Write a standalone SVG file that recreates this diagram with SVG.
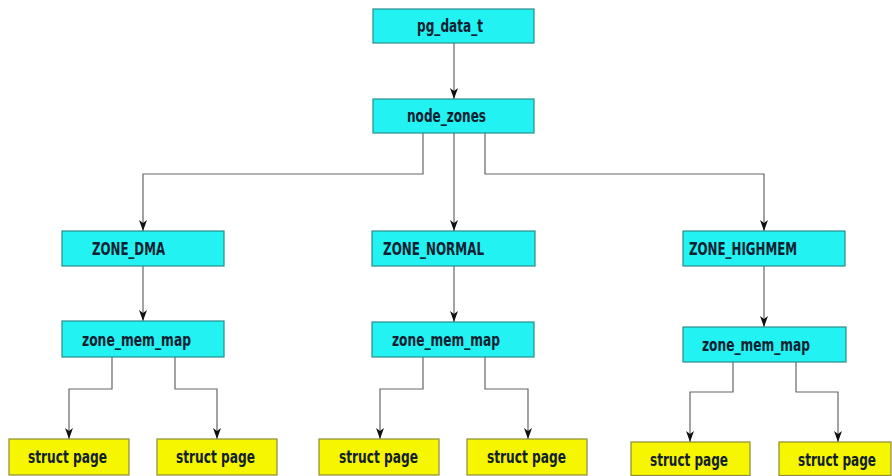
<svg xmlns="http://www.w3.org/2000/svg" width="892" height="476" viewBox="0 0 892 476">
<style>
.c{fill:#22f2f2;stroke:#2b8c8c;stroke-width:1.2}
.y{fill:#f6f600;stroke:#8c8c3a;stroke-width:1.2}
text{font-family:"DejaVu Sans Condensed","DejaVu Sans",sans-serif;font-stretch:condensed;font-weight:bold;font-size:17px;fill:#102030}
.e{fill:none;stroke:#666;stroke-width:1.2;marker-end:url(#ah)}
</style>
<defs>
<marker id="ah" markerUnits="userSpaceOnUse" markerWidth="12" markerHeight="8" refX="11" refY="4" orient="auto">
<path d="M0,0 L11,4 L0,8 L3,4 z" fill="#111"/>
</marker>
</defs>
<rect width="892" height="476" fill="#fff"/>
<g id="edges">
<path class="e" d="M454 43 V99"/>
<path class="e" d="M423 133 V174 H143 V231"/>
<path class="e" d="M454 133 V231"/>
<path class="e" d="M485 133 V174 H764 V231"/>
<path class="e" d="M143 266 V321"/>
<path class="e" d="M454 266 V322"/>
<path class="e" d="M764 266 V327"/>
<path class="e" d="M112 357 V389 H69 V439"/>
<path class="e" d="M175 357 V389 H217 V439"/>
<path class="e" d="M423 357 V389 H380 V439"/>
<path class="e" d="M485 357 V389 H528 V439"/>
<path class="e" d="M733 362 V392 H690 V442"/>
<path class="e" d="M796 362 V392 H838 V442"/>
</g>
<g id="pg_data_t"><rect class="c" x="373" y="9" width="161" height="34"/><text x="417" y="32" textLength="66" lengthAdjust="spacingAndGlyphs">pg_data_t</text></g>
<g id="node_zones"><rect class="c" x="373" y="99" width="161" height="34"/><text x="407" y="122" textLength="79" lengthAdjust="spacingAndGlyphs">node_zones</text></g>
<g id="zone_dma"><rect class="c" x="62" y="231" width="162" height="35"/><text x="92" y="255" textLength="73" lengthAdjust="spacingAndGlyphs">ZONE_DMA</text></g>
<g id="zone_normal"><rect class="c" x="372" y="231" width="163" height="35"/><text x="383" y="255" textLength="101" lengthAdjust="spacingAndGlyphs">ZONE_NORMAL</text></g>
<g id="zone_highmem"><rect class="c" x="683" y="231" width="162" height="35"/><text x="689" y="255" textLength="108" lengthAdjust="spacingAndGlyphs">ZONE_HIGHMEM</text></g>
<g id="zmm_dma"><rect class="c" x="62" y="321" width="162" height="36"/><text x="82" y="346" textLength="109" lengthAdjust="spacingAndGlyphs">zone_mem_map</text></g>
<g id="zmm_normal"><rect class="c" x="372" y="322" width="162" height="35"/><text x="392" y="346" textLength="108" lengthAdjust="spacingAndGlyphs">zone_mem_map</text></g>
<g id="zmm_highmem"><rect class="c" x="683" y="327" width="163" height="35"/><text x="702" y="351" textLength="108" lengthAdjust="spacingAndGlyphs">zone_mem_map</text></g>
<g id="page1"><rect class="y" x="9" y="439" width="120" height="36"/><text x="28" y="463" textLength="79" lengthAdjust="spacingAndGlyphs">struct page</text></g>
<g id="page2"><rect class="y" x="157" y="439" width="120" height="36"/><text x="176" y="463" textLength="79" lengthAdjust="spacingAndGlyphs">struct page</text></g>
<g id="page3"><rect class="y" x="319" y="439" width="120" height="36"/><text x="339" y="463" textLength="79" lengthAdjust="spacingAndGlyphs">struct page</text></g>
<g id="page4"><rect class="y" x="467" y="439" width="120" height="36"/><text x="487" y="463" textLength="79" lengthAdjust="spacingAndGlyphs">struct page</text></g>
<g id="page5"><rect class="y" x="631" y="442" width="119" height="33.5"/><text x="650" y="466" textLength="78" lengthAdjust="spacingAndGlyphs">struct page</text></g>
<g id="page6"><rect class="y" x="779" y="442" width="112" height="33.5"/><text x="798" y="466" textLength="78" lengthAdjust="spacingAndGlyphs">struct page</text></g>
</svg>
